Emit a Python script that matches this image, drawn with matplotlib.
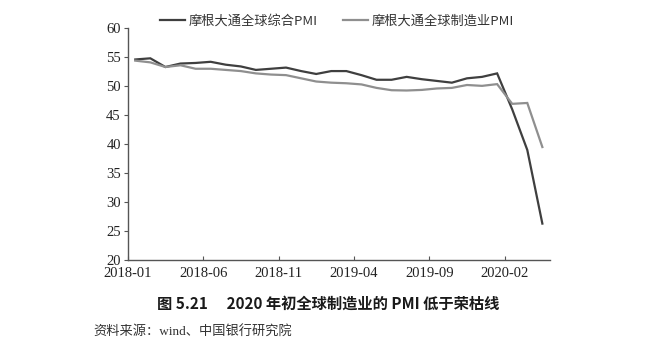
import matplotlib
matplotlib.use("Agg")
import matplotlib.pyplot as plt
from matplotlib.lines import Line2D

months = ["2018-01", "2018-02", "2018-03", "2018-04", "2018-05", "2018-06", "2018-07",
          "2018-08", "2018-09", "2018-10", "2018-11", "2018-12", "2019-01", "2019-02",
          "2019-03", "2019-04", "2019-05", "2019-06", "2019-07", "2019-08", "2019-09",
          "2019-10", "2019-11", "2019-12", "2020-01", "2020-02", "2020-03", "2020-04"]

composite = [54.6, 54.8, 53.3, 53.9, 54.0, 54.2, 53.7, 53.4, 52.8, 53.0, 53.2, 52.6,
             52.1, 52.6, 52.6, 51.9, 51.1, 51.1, 51.6, 51.2, 50.9, 50.6, 51.35, 51.6,
             52.2, 46.0, 39.0, 26.3]
manufacturing = [54.4, 54.1, 53.3, 53.6, 53.0, 53.0, 52.8, 52.6, 52.2, 52.0, 51.9, 51.35,
                 50.8, 50.6, 50.5, 50.3, 49.7, 49.3, 49.25, 49.35, 49.6, 49.7, 50.2, 50.05,
                 50.35, 46.95, 47.1, 39.5]

tick_labels = ["2018-01", "2018-06", "2018-11", "2019-04", "2019-09", "2020-02"]
yticks = [20, 25, 30, 35, 40, 45, 50, 55, 60]

label_comp = "摩根大通全球综合PMI"
label_manu = "摩根大通全球制造业PMI"
title = "图 5.21\u2003 2020 年初全球制造业的 PMI 低于荣枯线"
source = "资料来源：wind、中国银行研究院"

serif = ["Liberation Serif", "DejaVu Serif"]
cjk = ["Noto Sans CJK SC", "DejaVu Sans"]
cjk_serif = ["Liberation Serif", "Noto Sans CJK SC"]

fig = plt.figure(figsize=(6.5, 3.52), dpi=100)
ax = fig.add_axes([0.1965, 0.261, 0.6495, 0.659])

dark = "#3f3f3f"
light = "#8f8f8f"
xs = [i + 0.5 for i in range(len(months))]
ax.plot(xs, composite, color=dark, lw=1.6, solid_joinstyle="miter")
ax.plot(xs, manufacturing, color=light, lw=1.6, solid_joinstyle="miter")

ax.set_xlim(0, len(months))
ax.set_ylim(20, 60)
ax.set_yticks(yticks)
ax.set_yticklabels([str(v) for v in yticks], fontfamily=serif, fontsize=10.5, color="#222222")
ax.set_xticks([months.index(m) for m in tick_labels])
ax.set_xticklabels(tick_labels, fontfamily=serif, fontsize=10.5, color="#222222")

for s in ["top", "right"]:
    ax.spines[s].set_visible(False)
for s in ["left", "bottom"]:
    ax.spines[s].set_color("#555555")
    ax.spines[s].set_linewidth(1.0)
ax.tick_params(axis="y", direction="out", length=3, width=0.8, color="#555555", pad=2)
ax.tick_params(axis="x", direction="in", length=3, width=0.8, color="#555555", pad=5)

handles = [Line2D([], [], color=dark, lw=1.6), Line2D([], [], color=light, lw=1.6)]
fig.legend(handles, [label_comp, label_manu], loc="center", ncol=2,
           bbox_to_anchor=(337 / 650, 1 - 21 / 352), frameon=False,
           prop={"family": cjk, "size": 9.5}, handlelength=1.9,
           handletextpad=0.3, columnspacing=1.9, labelcolor="#333333")

fig.text(328 / 650, 1 - 304 / 352, title, ha="center", va="center",
         fontfamily=cjk, fontsize=11, fontweight="bold", color="#1a1a1a")
fig.text(93 / 650, 1 - 332 / 352, source, ha="left", va="center",
         fontfamily=cjk_serif, fontsize=9.5, color="#333333")

fig.savefig("out.png", dpi=100)
